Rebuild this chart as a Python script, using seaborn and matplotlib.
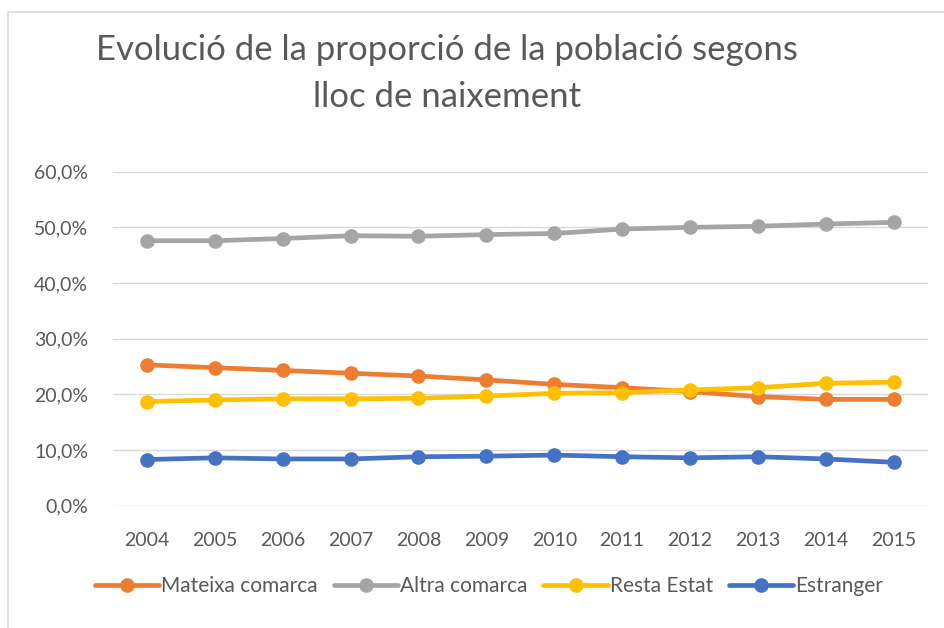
import matplotlib
matplotlib.use("Agg")

import pandas as pd
import seaborn as sns
from matplotlib import pyplot as plt
from matplotlib.patches import Rectangle
from matplotlib.ticker import FuncFormatter

years = list(range(2004, 2016))
mateixa_comarca = [25.3, 24.8, 24.3, 23.8, 23.3, 22.6, 21.8, 21.2, 20.5, 19.6, 19.1, 19.1]
altra_comarca = [47.6, 47.6, 48.0, 48.5, 48.4, 48.7, 48.9, 49.7, 50.0, 50.2, 50.6, 50.9]
resta_estat = [18.7, 19.0, 19.2, 19.2, 19.3, 19.7, 20.2, 20.3, 20.8, 21.2, 22.0, 22.2]
estranger = [8.3, 8.6, 8.4, 8.4, 8.8, 8.9, 9.1, 8.8, 8.6, 8.8, 8.4, 7.8]

series_names = ["Mateixa comarca", "Altra comarca", "Resta Estat", "Estranger"]
series_values = [mateixa_comarca, altra_comarca, resta_estat, estranger]
colors = ["#ED7D31", "#A5A5A5", "#FFC000", "#4472C4"]

frame = pd.concat(
    [pd.DataFrame({"year": years, "pct": vals, "origin": name}) for name, vals in zip(series_names, series_values)],
    ignore_index=True,
)

sns.set_theme(style="white")
plt.rcParams["font.family"] = ["Lato", "DejaVu Sans"]
text_color = "#595959"

fig = plt.figure(figsize=(9.44, 6.28), dpi=100)
ax = fig.add_axes([0.1197, 0.1947, 0.8630, 0.5319])

sns.lineplot(
    data=frame,
    x="year",
    y="pct",
    hue="origin",
    hue_order=series_names,
    palette=colors,
    marker="o",
    markersize=10.5,
    markeredgewidth=0,
    linewidth=3.4,
    ax=ax,
)

ax.set_xlim(2003.5, 2015.5)
ax.set_ylim(0, 60)
ax.set_xticks(years)
ax.set_yticks(range(0, 61, 10))
ax.yaxis.set_major_formatter(FuncFormatter(lambda v, _: f"{v:.1f}%".replace(".", ",")))
ax.grid(axis="y", color="#D9D9D9", linewidth=1.0)
ax.grid(axis="x", visible=False)
ax.set_axisbelow(True)
for spine in ax.spines.values():
    spine.set_visible(False)
ax.tick_params(axis="both", length=0, labelsize=14, labelcolor=text_color)
ax.tick_params(axis="x", pad=19)
ax.tick_params(axis="y", pad=18)
ax.set_xlabel("")
ax.set_ylabel("")

handles, labels = ax.get_legend_handles_labels()
ax.legend(
    handles,
    labels,
    loc="center",
    bbox_to_anchor=(489 / 944, 1 - 586 / 628),
    bbox_transform=fig.transFigure,
    ncol=4,
    frameon=False,
    fontsize=15,
    labelcolor=text_color,
    handlelength=3.1,
    handletextpad=0.1,
    columnspacing=0.75,
)

fig.text(447 / 944, 1 - 50 / 628, "Evolució de la proporció de la població segons",
         ha="center", va="center", fontsize=25, color=text_color)
fig.text(447 / 944, 1 - 97 / 628, "lloc de naixement",
         ha="center", va="center", fontsize=25, color=text_color)

fig.patches.append(Rectangle((8 / 944, -0.01), 1.0, 1 - 12 / 628 + 0.01, transform=fig.transFigure,
                             fill=False, edgecolor="#D9D9D9", linewidth=1.2))

fig.savefig("out.png", dpi=100)
plt.close(fig)
